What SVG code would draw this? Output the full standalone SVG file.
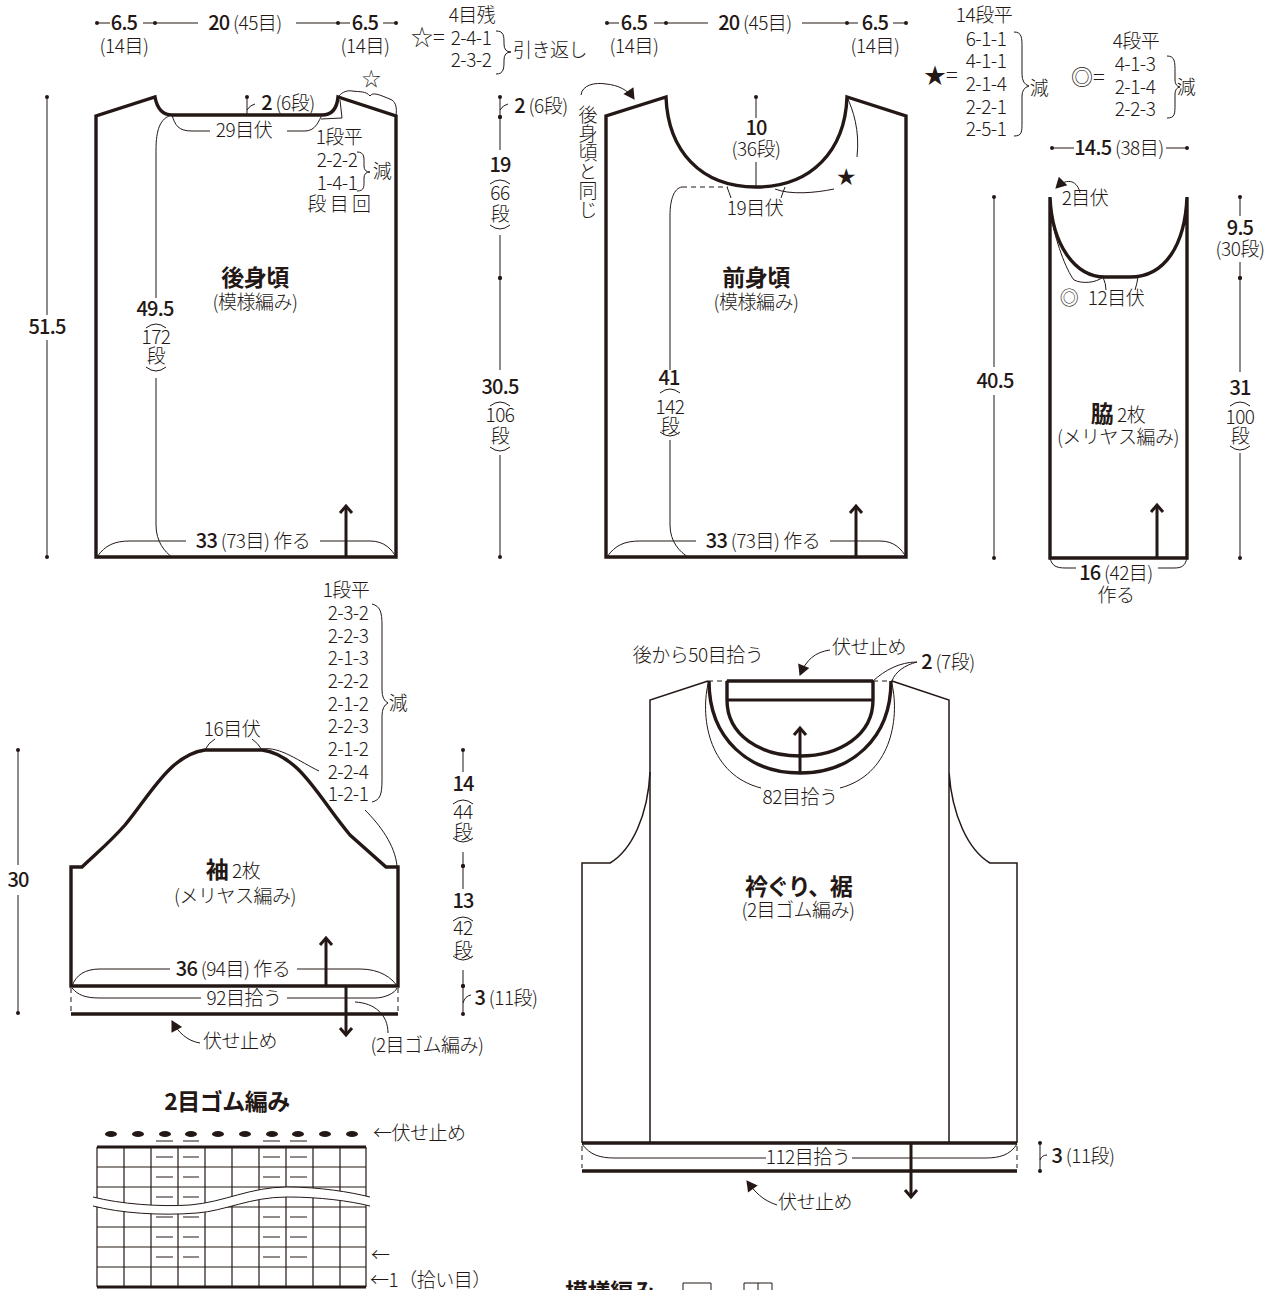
<svg xmlns="http://www.w3.org/2000/svg" width="1274" height="1290" viewBox="0 0 1274 1290">
<style>
text{font-family:"Noto Sans CJK JP","Noto Sans",sans-serif;font-size:19px;font-weight:300;fill:#231815;text-anchor:middle;letter-spacing:-.5px}
.l{text-anchor:start}
.h{font-size:23px;font-weight:700}
.n{font-weight:500;font-size:20px;letter-spacing:-.8px}
.w{font-size:22px;letter-spacing:0}
.t{fill:none;stroke:#231815;stroke-width:1}
.d{fill:none;stroke:#231815;stroke-width:1;marker-start:url(#dot)}
.dd{fill:none;stroke:#231815;stroke-width:1;marker-start:url(#dot);marker-end:url(#dot)}
.k{fill:none;stroke:#231815;stroke-width:3.4;stroke-linejoin:miter}
.m{fill:none;stroke:#231815;stroke-width:1.5}
.a{fill:none;stroke:#231815;stroke-width:3;marker-end:url(#up)}
.r{fill:none;stroke:#231815;stroke-width:3}
.s{fill:none;stroke:#231815;stroke-width:1;stroke-dasharray:5 4}
.g{fill:none;stroke:#231815;stroke-width:1.2}
</style>
<defs>
<marker id="dot" markerUnits="userSpaceOnUse" markerWidth="6" markerHeight="6" refX="3" refY="3"><circle cx="3" cy="3" r="2" fill="#231815"/></marker>
<marker id="up" markerUnits="userSpaceOnUse" markerWidth="16" markerHeight="16" refX="13" refY="8" orient="auto"><path d="M6 2 L13 8 L6 14" fill="none" stroke="#231815" stroke-width="3"/></marker>
<marker id="ah" markerUnits="userSpaceOnUse" markerWidth="14" markerHeight="14" refX="11" refY="7" orient="auto"><path d="M1 1 L12 7 L1 13 Z" fill="#231815"/></marker>
</defs>

<g id="connectors">
<!-- back -->
<path class="d" d="M97 23H110"/><path class="d" d="M155 23H143M155 23H198"/><path class="d" d="M338 23H296"/><path class="t" d="M338 23H350"/><path class="d" d="M396 23H383"/>
<path class="d" d="M47 97V315"/><path class="d" d="M47 557V340"/>
<path class="d" d="M247 97V115"/><path class="t" d="M247 110Q250 105 255 104"/>
<path class="t" d="M172 115C175 125 178 131 192 131H210M287 131H305C316 131 319 120 322 115"/>
<path class="t" d="M172 115C160 118 156 130 156 150V298M156 378V525C156 542 165 552 172 557"/>
<path class="t" d="M97 557C105 545 115 541 130 541H186M320 541H370C385 541 392 550 396 557"/>
<path class="t" d="M339 96C342 92 348 90 352 91C360 92 366 91 370 96C373 92 378 94 392 100C396 103 397 108 396 116"/>
<path class="t" d="M340 100L342 118L321 119"/>
<path class="t" d="M357 152C365 152 364 158 364 166Q364 172 370 172Q364 172 364 178C364 186 365 191 357 191"/>
<path class="t" d="M496 31C504 31 504 36 504 44Q504 52 511 52Q504 52 504 60C504 68 504 74 496 74"/>
<path class="a" d="M346 557V506"/>
<path class="t" d="M146 328Q156 320 166 328M146 367Q156 375 166 367"/>
<!-- mid dim -->
<path class="dd" d="M500 97V117"/><path class="t" d="M500 110Q503 105 508 104"/>
<path class="d" d="M500 117V150"/><path class="d" d="M500 278V235"/><path class="d" d="M500 278V370"/><path class="d" d="M500 557V455"/>
<path class="t" d="M490 184Q500 176 510 184M490 225Q500 233 510 225M490 406Q500 398 510 406M490 447Q500 455 510 447"/>
<path class="t" d="M581 95C582 85 595 82 606 84C618 85 628 90 634 99" marker-end="url(#ah)"/>
<!-- front -->
<path class="d" d="M607 23H619"/><path class="d" d="M666 23H654M666 23H708"/><path class="d" d="M847 23H802"/><path class="t" d="M847 23H858"/><path class="d" d="M906 23H893"/>
<path class="d" d="M756 97V118"/><path class="t" d="M756 162V187"/>
<path class="s" d="M682 187H728"/>
<path class="t" d="M682 187C674 188 670 200 670 215V370M670 440V525C670 542 680 552 688 557"/>
<path class="t" d="M607 557C615 545 625 541 640 541H696M830 541H880C895 541 902 550 906 557"/>
<path class="t" d="M727 187Q729 192 731 198M785 187Q783 192 781 198"/>
<path class="t" d="M847 97C853 110 860 130 857 157"/>
<path class="t" d="M775 189C790 195 815 193 834 189"/>
<path class="a" d="M856 557V506"/>
<path class="t" d="M660 393Q670 385 680 393M660 432Q670 440 680 432"/>
<path class="t" d="M1014 32C1022 32 1022 38 1022 48V74Q1022 84 1029 86Q1022 88 1022 96V122C1022 132 1022 136 1014 136"/>
<path class="t" d="M1167 56C1175 56 1175 62 1175 72V80Q1175 86 1180 87Q1175 88 1175 94V104C1175 114 1175 118 1167 118"/>
<!-- side -->
<path class="d" d="M1052 148H1074"/><path class="d" d="M1187 148H1166"/>
<path class="d" d="M994 197V367"/><path class="d" d="M994 558V395"/>
<path class="d" d="M1240 197V216"/><path class="d" d="M1240 278V262"/><path class="d" d="M1240 278V372"/><path class="d" d="M1240 558V453"/>
<path class="t" d="M1230 406Q1240 398 1250 406M1230 446Q1240 454 1250 446"/>
<path class="t" d="M1080 193C1078 182 1068 176 1056 188" marker-end="url(#ah)"/>
<path class="t" d="M1051 215C1055 240 1066 270 1074 280C1082 284 1096 283 1103 277"/>
<path class="t" d="M1103 277Q1106 284 1106 290M1138 277Q1137 284 1135 290"/>
<path class="t" d="M1050 558C1052 566 1056 568 1066 568H1076M1158 568H1174C1182 568 1185 566 1187 558"/>
<path class="a" d="M1157 557V505"/>
<!-- sleeve -->
<path class="d" d="M18 750V865"/><path class="d" d="M18 1013V895"/>
<path class="d" d="M463 750V772"/><path class="d" d="M463 866V852"/><path class="d" d="M463 866V889"/><path class="d" d="M463 986V970"/><path class="dd" d="M463 986V1014"/>
<path class="t" d="M463 1003Q465 996 471 995"/>
<path class="t" d="M453 804Q463 796 473 804M453 838Q463 846 473 838M453 921Q463 913 473 921M453 956Q463 964 473 956"/>
<path class="t" d="M205 750Q208 743 215 739M262 750Q258 743 252 739"/>
<path class="t" d="M262 749C280 746 300 762 319 771"/>
<path class="t" d="M365 810C380 825 395 845 397 866"/>
<path class="t" d="M372 604C380 606 382 612 382 625V690Q382 700 388 703Q382 706 382 716V780C382 795 380 800 372 802"/>
<path class="t" d="M72 986C76 975 85 969 100 969H170M297 969H360C380 969 392 978 397 986"/>
<path class="t" d="M72 988C78 995 85 998 100 998H201M287 998H375C385 998 395 993 397 988"/>
<path class="t" d="M355 1002C375 1003 388 1015 388 1033"/>
<path class="t" d="M200 1043C187 1041 178 1032 172 1021" marker-end="url(#ah)"/>
<path class="a" d="M326 986V938"/>
<path class="a" d="M346 986V1035"/>
<!-- neck band -->
<path class="t" d="M830 650C815 652 806 660 800 675" marker-end="url(#ah)"/>
<path class="t" d="M873 681C885 670 900 662 917 662C905 665 895 672 892 681"/>
<path class="t" d="M708 684C700 720 710 775 761 788M840 788C890 775 900 720 892 684"/>
<path class="a" d="M800 774V728"/>
<path class="t" d="M582 1144C590 1155 600 1158 615 1158H766M852 1158H985C1000 1158 1010 1155 1017 1144"/>
<path class="a" d="M911 1143V1197"/>
<path class="dd" d="M1040 1143V1171"/><path class="t" d="M1040 1160Q1042 1155 1047 1155"/>
<path class="t" d="M777 1205C762 1200 755 1192 747 1181" marker-end="url(#ah)"/>
</g>

<g id="back-body">
<path class="k" d="M96 557V116L155 97C157 108 162 115 172 115H322C332 115 337 108 338 97L396 116V557Z"/>
<text class="h" x="255" y="286">後身頃</text><text x="255" y="309">(模様編み)</text>
</g>
<g id="back-labels">
<text x="124" y="30" class="n">6.5</text><text x="124" y="53">(14目)</text>
<text x="245" y="30"><tspan class="n">20</tspan> (45目)</text>
<text x="365" y="30" class="n">6.5</text><text x="365" y="53">(14目)</text>
<text x="472" y="22">4目残</text><text x="428" y="45" class="w">☆=</text><text x="471" y="45">2-4-1</text><text x="471" y="67">2-3-2</text><text class="l" x="513" y="57">引き返し</text>
<text x="371" y="86">☆</text>
<text x="288" y="110"><tspan class="n">2</tspan> (6段)</text>
<text x="244" y="137">29目伏</text>
<text x="339" y="144">1段平</text><text x="337" y="167">2-2-2</text><text x="337" y="190">1-4-1</text><text x="339" y="211">段 目 回</text><text x="382" y="178">減</text>
<text x="47" y="334" class="n">51.5</text>
<text x="155" y="316" class="n">49.5</text><text x="156" y="344">172</text><text x="156" y="363">段</text>
<text x="253" y="548"><tspan class="n">33</tspan> (73目) 作る</text>
</g>
<g id="mid-labels">
<text x="541" y="113"><tspan class="n">2</tspan> (6段)</text>
<text x="500" y="172" class="n">19</text><text x="500" y="200">66</text><text x="500" y="221">段</text>
<text x="500" y="394" class="n">30.5</text><text x="500" y="422">106</text><text x="500" y="443">段</text>
<text x="588" y="105" style="writing-mode:vertical-rl;text-anchor:start;letter-spacing:0">後身頃と同じ</text>
</g>
<g id="front-body">
<path class="k" d="M606 557V116L666 97C668 150 700 187 756 187C812 187 845 150 847 97L906 116V557Z"/>
<text class="h" x="756" y="286">前身頃</text><text x="756" y="309">(模様編み)</text>
</g>
<g id="front-labels">
<text x="634" y="30" class="n">6.5</text><text x="634" y="53">(14目)</text>
<text x="755" y="30"><tspan class="n">20</tspan> (45目)</text>
<text x="875" y="30" class="n">6.5</text><text x="875" y="53">(14目)</text>
<text x="756" y="135" class="n">10</text><text x="756" y="156">(36段)</text><text x="755" y="215">19目伏</text><text x="846" y="184">★</text>
<text x="669" y="385" class="n">41</text><text x="670" y="414">142</text><text x="670" y="433">段</text>
<text x="763" y="548"><tspan class="n">33</tspan> (73目) 作る</text>
<text x="984" y="22">14段平</text><text x="986" y="46">6-1-1</text><text x="986" y="68">4-1-1</text><text x="986" y="91">2-1-4</text><text x="986" y="114">2-2-1</text><text x="986" y="136">2-5-1</text>
<text x="941" y="83" class="w">★=</text><text x="1039" y="95">減</text>
<text x="1088" y="85" class="w">◎=</text><text x="1136" y="48">4段平</text><text x="1135" y="71">4-1-3</text><text x="1135" y="94">2-1-4</text><text x="1135" y="116">2-2-3</text><text x="1186" y="94">減</text>
</g>
<g id="side-body">
<path class="k" d="M1050 197V558H1187V197C1185 245 1165 277 1130 277H1105C1075 277 1052 245 1050 197"/>
<text x="1119" y="155"><tspan class="n">14.5</tspan> (38目)</text>
<text x="995" y="388" class="n">40.5</text>
<text x="1085" y="205">2目伏</text><text x="1069" y="305">◎</text><text x="1116" y="305">12目伏</text>
<text x="1240" y="235" class="n">9.5</text><text x="1240" y="256">(30段)</text>
<text x="1240" y="395" class="n">31</text><text x="1240" y="424">100</text><text x="1240" y="443">段</text>
<text x="1118" y="422"><tspan class="h">脇</tspan> 2枚</text><text x="1118" y="444">(メリヤス編み)</text>
<text x="1116" y="580"><tspan class="n">16</tspan> (42目)</text><text x="1116" y="602">作る</text>
</g>
<g id="sleeve">
<path class="k" d="M71 986V867H82C100 850 110 842 125 825C150 795 170 755 205 750H262C300 755 320 800 350 835L386 867H398V986Z"/>
<path class="k" d="M71 1014H398"/>
<path class="s" d="M71 988V1012M398 988V1012"/>
<text x="233" y="878"><tspan class="h">袖</tspan> 2枚</text><text x="235" y="903">(メリヤス編み)</text>
<text x="232" y="736">16目伏</text>
<text x="346" y="597">1段平</text><text x="348" y="620">2-3-2</text><text x="348" y="643">2-2-3</text><text x="348" y="665">2-1-3</text><text x="348" y="688">2-2-2</text><text x="348" y="711">2-1-2</text><text x="348" y="733">2-2-3</text><text x="348" y="756">2-1-2</text><text x="348" y="779">2-2-4</text><text x="348" y="801">1-2-1</text><text x="398" y="710">減</text>
<text x="18" y="887" class="n">30</text>
<text x="463" y="791" class="n">14</text><text x="463" y="819">44</text><text x="463" y="839">段</text>
<text x="463" y="908" class="n">13</text><text x="463" y="935">42</text><text x="463" y="957">段</text>
<text x="506" y="1005"><tspan class="n">3</tspan> (11段)</text>
<text x="233" y="976"><tspan class="n">36</tspan> (94目) 作る</text>
<text x="244" y="1005">92目拾う</text>
<text x="240" y="1048">伏せ止め</text>
<text x="427" y="1052">(2目ゴム編み)</text>
</g>
<g id="neckband">
<path class="m" d="M582 1143V863H610C632 850 648 815 650 772"/>
<path class="m" d="M650 1143V700L708 681M949 1143V700L892 681M1017 1143V863H990C968 850 952 815 949 772"/>
<path class="s" d="M708 681H727M873 681H892"/>
<path class="k" d="M727 681H873"/><path class="r" d="M727 700H873"/>
<path class="k" d="M727 681V700C727 735 760 756 800 756C840 756 873 735 873 700V681"/>
<path class="k" d="M709 681C709 740 750 773 800 773C850 773 891 740 891 681"/>
<path class="k" d="M582 1143H1017M582 1171H1017"/>
<path class="s" d="M582 1146V1168M1017 1146V1168"/>
<text x="698" y="662">後から50目拾う</text><text x="869" y="654">伏せ止め</text><text x="948" y="669"><tspan class="n">2</tspan> (7段)</text>
<text x="800" y="804">82目拾う</text><text class="h" x="798" y="895" style="letter-spacing:-1.6px">衿ぐり、裾</text><text x="798" y="917">(2目ゴム編み)</text>
<text x="808" y="1164">112目拾う</text><text x="1083" y="1163"><tspan class="n">3</tspan> (11段)</text><text x="815" y="1209">伏せ止め</text>
</g>
<g id="chart">
<text class="h" x="227" y="1110">2目ゴム編み</text>
<path class="g" d="M97 1167H366M97 1187H366M97 1207H366M97 1227H366M97 1247H366M97 1267H366M97 1147V1287M124 1147V1287M151 1147V1287M178 1147V1287M205 1147V1287M232 1147V1287M259 1147V1287M286 1147V1287M313 1147V1287M340 1147V1287M366 1147V1287"/>
<path class="r" d="M97 1147H366M97 1287H366"/>
<g fill="#231815"><ellipse cx="111" cy="1134" rx="6" ry="3"/><ellipse cx="138" cy="1134" rx="6" ry="3"/><ellipse cx="165" cy="1134" rx="6" ry="3"/><ellipse cx="191" cy="1134" rx="6" ry="3"/><ellipse cx="218" cy="1134" rx="6" ry="3"/><ellipse cx="245" cy="1134" rx="6" ry="3"/><ellipse cx="272" cy="1134" rx="6" ry="3"/><ellipse cx="298" cy="1134" rx="6" ry="3"/><ellipse cx="325" cy="1134" rx="6" ry="3"/><ellipse cx="352" cy="1134" rx="6" ry="3"/></g>
<path class="t" d="M156 1141H173M183 1141H199M263 1141H280M290 1141H307M156 1157H173M183 1157H199M263 1157H280M290 1157H307M156 1177H173M183 1177H199M263 1177H280M290 1177H307M156 1197H173M183 1197H199M156 1217H173M183 1217H199M263 1217H280M290 1217H307M156 1237H173M183 1237H199M263 1237H280M290 1237H307M156 1257H173M183 1257H199M263 1257H280M290 1257H307"/>
<path fill="#fff" d="M93 1197C120 1204 160 1207 190 1205C225 1202 250 1187 287 1187C320 1187 350 1192 370 1197V1206C350 1201 320 1197 287 1197C250 1197 225 1211 197 1213C160 1216 120 1213 93 1206Z"/>
<path class="t" d="M93 1197C120 1204 160 1207 190 1205C225 1202 250 1187 287 1187C320 1187 350 1192 370 1197M93 1206C120 1213 160 1216 197 1213C225 1211 250 1197 287 1197C320 1197 350 1201 370 1206"/>
<text class="l" x="373" y="1140">←伏せ止め</text><text class="l" x="371" y="1262">←</text><text class="l" x="370" y="1287">←1（拾い目）</text>
</g>
<g id="pattern-legend">
<text class="h l" x="565" y="1300">模様編み</text>
<path class="t" d="M683 1290V1283H711V1290M744 1290V1283H772V1290M758 1283V1290"/>
</g>
</svg>
